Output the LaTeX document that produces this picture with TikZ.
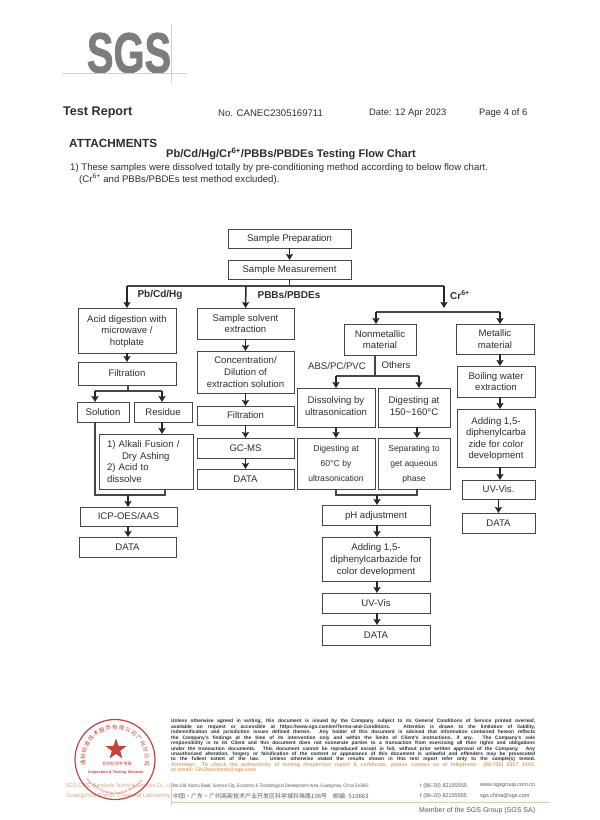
\documentclass[tikz,border=0pt]{standalone}
\usepackage{fontspec}
\setmainfont{Liberation Sans}
\newfontfamily\cjk{Noto Sans CJK SC}
\newfontfamily\logofont[BoldFeatures={FakeBold=1.5}]{Liberation Sans}
\usetikzlibrary{shapes.geometric, arrows.meta, decorations.text}
\definecolor{textdark}{RGB}{45, 45, 45}
\definecolor{linedark}{RGB}{70, 70, 70}
\definecolor{logogray}{RGB}{125, 125, 125}
\definecolor{logotan}{RGB}{232, 200, 170}
\definecolor{stampred}{RGB}{196, 66, 56}
\definecolor{noticeorange}{RGB}{226, 160, 100}
\newcommand{\fs}[2]{\fontsize{#1}{#2}\selectfont}

\begin{document}
\begin{tikzpicture}[
    x=1pt, y=-1pt,
    box/.style={rectangle, draw=linedark, line width=0.9pt, outer sep=0pt, inner sep=0pt, align=center, text=textdark, text depth=0pt, font=\fs{9.6}{11.6}},
    head/.style={anchor=west, text=textdark, inner sep=0pt},
    tag/.style={text=textdark, inner sep=0pt, font=\fs{9.6}{11}},
    stem/.style={draw=linedark, line width=1.1pt},
    arrow/.style={-{Stealth[length=6pt, width=7pt, inset=1pt]}, line width=1.5pt, color=black!85},
    foot/.style={anchor=west, inner sep=0pt, text=textdark!80, font=\fs{5.5}{6}},
]
\useasboundingbox (0,0) rectangle (600,820);

% Logo
\node[font=\logofont\bfseries\fs{57}{57}, text=logogray, xscale=0.7, inner sep=0pt] (logo) at (129,53) {SGS};
\draw[logotan, line width=0.6pt] (62,73.5) -- (187,73.5);
\draw[logotan, line width=0.6pt] (171,24) -- (171,83);

% Header
\node[head, font=\bfseries\fs{12.6}{13}] (report) at (63,112) {Test Report};
\node[head, font=\fs{9.6}{10}] (number) at (218,113) {No. CANEC2305169711};
\node[head, font=\fs{9.4}{10}] (date) at (369,113) {Date: 12 Apr 2023};
\node[head, font=\fs{9.4}{10}] (page) at (479,113) {Page 4 of 6};
\node[head, font=\bfseries\fs{11.8}{12}] (attach) at (69,143) {ATTACHMENTS};
\node[head, font=\bfseries\fs{11.1}{12}] (title) at (166,154) {Pb/Cd/Hg/Cr\textsuperscript{6+}/PBBs/PBDEs Testing Flow Chart};
\node[head, font=\fs{9.6}{10}] (note1) at (70,168) {1) These samples were dissolved totally by pre-conditioning method according to below flow chart.};
\node[head, font=\fs{9.6}{10}] (note2) at (79,179) {(Cr\textsuperscript{6+} and PBBs/PBDEs test method excluded).};

% Common steps
\node[box, minimum width=123pt, minimum height=19pt] (prep) at (289.5,238.5) {Sample Preparation};
\node[box, minimum width=123pt, minimum height=19pt] (meas) at (289.5,269.5) {Sample Measurement};

% Pb/Cd/Hg column
\node[box, minimum width=98pt, minimum height=45pt] (acid) at (127,330.5) {Acid digestion with\\microwave /\\hotplate};
\node[box, minimum width=98pt, minimum height=23pt] (filtA) at (127,373.5) {Filtration};
\node[box, minimum width=52pt, minimum height=20pt] (solution) at (103,412) {Solution};
\node[box, minimum width=58pt, minimum height=20pt] (residue) at (163,412) {Residue};
\node[box, minimum width=94pt, minimum height=55pt, text width=78pt, text depth={}, align=left] (alkali) at (146,461.5) {1) Alkali Fusion /\\\hspace*{15pt}Dry Ashing\\2) Acid to\\dissolve};
\node[box, minimum width=97pt, minimum height=19pt] (icp) at (128.5,516.5) {ICP-OES/AAS};
\node[box, minimum width=97pt, minimum height=20pt] (dataA) at (127.5,547) {DATA};

% PBBs/PBDEs column
\node[box, minimum width=97pt, minimum height=31pt] (solvent) at (245.5,323.5) {Sample solvent\\extraction};
\node[box, minimum width=97pt, minimum height=42pt] (conc) at (245.5,372) {Concentration/\\Dilution of\\extraction solution};
\node[box, minimum width=97pt, minimum height=19pt] (filtB) at (245.5,415.5) {Filtration};
\node[box, minimum width=97pt, minimum height=20pt] (gcms) at (245.5,448) {GC-MS};
\node[box, minimum width=97pt, minimum height=20pt] (dataB) at (245.5,479) {DATA};

% Cr6+ nonmetallic column
\node[box, minimum width=72pt, minimum height=31pt] (nonmet) at (380,339.5) {Nonmetallic\\material};
\node[box, minimum width=78pt, minimum height=39pt, text depth=3.5pt] (dissolve) at (336,407.5) {Dissolving by\\ultrasonication};
\node[box, minimum width=72pt, minimum height=39pt, text depth=3.5pt] (digestA) at (414,407.5) {Digesting at\\150\textasciitilde160\textdegree C};
\node[box, minimum width=78pt, minimum height=51pt, font=\fs{8.6}{15}] (digestB) at (336,463.5) {Digesting at\\60\textdegree C by\\ultrasonication};
\node[box, minimum width=72pt, minimum height=51pt, font=\fs{8.6}{15}] (separate) at (414,463.5) {Separating to\\get aqueous\\phase};
\node[box, minimum width=108pt, minimum height=20pt] (ph) at (376,515) {pH adjustment};
\node[box, minimum width=108pt, minimum height=44pt] (addA) at (376,559) {Adding 1,5-\\diphenylcarbazide for\\color development};
\node[box, minimum width=108pt, minimum height=20pt] (uvA) at (376,603) {UV-Vis};
\node[box, minimum width=108pt, minimum height=20pt] (dataC) at (376,635) {DATA};

% Cr6+ metallic column
\node[box, minimum width=78pt, minimum height=30pt] (metal) at (495,339) {Metallic\\material};
\node[box, minimum width=78pt, minimum height=31pt] (boil) at (496,381.5) {Boiling water\\extraction};
\node[box, minimum width=78pt, minimum height=58pt] (addB) at (496,438) {Adding 1,5-\\diphenylcarba\\zide for color\\development};
\node[box, minimum width=73pt, minimum height=19pt] (uvB) at (498.5,489.5) {UV-Vis.};
\node[box, minimum width=73pt, minimum height=20pt] (dataD) at (498.5,523) {DATA};

% Branch labels
\node[tag, font=\bfseries\fs{10}{11}] (lblPb) at (160,295) {Pb/Cd/Hg};
\node[tag, font=\bfseries\fs{10}{11}] (lblPBB) at (289,295) {PBBs/PBDEs};
\node[tag, font=\bfseries\fs{10}{11}] (lblCr) at (460,295) {Cr\textsuperscript{6+}};
\node[tag] (lblABS) at (337,366) {ABS/PC/PVC};
\node[tag] (lblOth) at (396,365) {Others};

% Junctions
\coordinate (jmain) at (289.5,286);
\coordinate (jleft) at (127,286);
\coordinate (jmid) at (246,286);
\coordinate (jright) at (444,286);
\coordinate (jcr) at (444,308);
\coordinate (jcrL) at (376,312);
\coordinate (jcrR) at (500,312);
\coordinate (jfilt) at (128,391);
\coordinate (jsol) at (95,391);
\coordinate (jres) at (162,391);
\coordinate (jabs) at (336,376);
\coordinate (joth) at (419,376);
\coordinate (jnon) at (375,376);
\coordinate (jsolend) at (95,495);
\coordinate (jalk) at (165,495);
\coordinate (jicp) at (128,495);
\coordinate (jdigA) at (336,495);
\coordinate (jsepA) at (417,495);
\coordinate (jph) at (377,495);

% Connectors
\draw[arrow] (prep) -- (meas);
\draw[stem] (meas.south) -- (jmain);
\draw[stem] (jleft) -- (jright);
\draw[arrow] (jleft) -- (acid.north);
\draw[arrow] (jmid) -- (solvent.north);
\draw[arrow] (jright) -- (jcr);
\draw[stem] (jcrL) -- (jcrR);
\draw[arrow] (jcrL) -- (jcrL |- nonmet.north);
\draw[arrow] (jcrR) -- (jcrR |- metal.north);

\draw[arrow] (acid) -- (filtA);
\draw[stem] (jfilt |- filtA.south) -- (jfilt);
\draw[stem] (jsol) -- (jres);
\draw[arrow] (jsol) -- (jsol |- solution.north);
\draw[arrow] (jres) -- (jres |- residue.north);
\draw[arrow] (jres |- residue.south) -- (jres |- alkali.north);
\draw[stem] (jsol |- solution.south) -- (jsolend) -- (jalk) -- (jalk |- alkali.south);
\draw[arrow] (jicp) -- (jicp |- icp.north);
\draw[arrow] (jicp |- icp.south) -- (jicp |- dataA.north);

\draw[arrow] (solvent) -- (conc);
\draw[arrow] (conc) -- (filtB);
\draw[arrow] (filtB) -- (gcms);
\draw[arrow] (gcms) -- (dataB);

\draw[stem] (jnon |- nonmet.south) -- (jnon);
\draw[stem] (jabs) -- (joth);
\draw[arrow] (jabs) -- (jabs |- dissolve.north);
\draw[arrow] (joth) -- (joth |- digestA.north);
\draw[arrow] (jabs |- dissolve.south) -- (jabs |- digestB.north);
\draw[arrow] (jsepA |- digestA.south) -- (jsepA |- separate.north);
\draw[stem] (jabs |- digestB.south) -- (jdigA) -- (jsepA) -- (jsepA |- separate.south);
\draw[arrow] (jph) -- (jph |- ph.north);
\draw[arrow] (jph |- ph.south) -- (jph |- addA.north);
\draw[arrow] (jph |- addA.south) -- (jph |- uvA.north);
\draw[arrow] (jph |- uvA.south) -- (jph |- dataC.north);

\draw[arrow] (jcrR |- metal.south) -- (jcrR |- boil.north);
\draw[arrow] (jcrR |- boil.south) -- (jcrR |- addB.north);
\draw[arrow] (jcrR |- addB.south) -- (jcrR |- uvB.north);
\draw[arrow] (uvB) -- (dataD);

% Laboratory name under the stamp
\node[foot, font=\fs{6}{7}, text=logotan!85!black, xscale=0.8] (labA) at (66,786) {SGS-CSTC Standards Technical Services Co., Ltd.};
\node[foot, font=\fs{6}{7}, text=logotan!85!black, xscale=0.96] (labB) at (66,796) {Guangzhou Branch Chemical Laboratory};

% Stamp
\begin{scope}[shift={(115,759.5)}, y=1pt]
\draw[stampred, line width=1.2pt] (0,0) circle[radius=40];
\path[decorate, decoration={text along path, text align=fit to path, text color=stampred, text={|\cjk\fs{5.6}{6}|通标标准技术服务有限公司广州分公司}}]
    (192:30) arc[start angle=192, end angle=-12, radius=30];
\path[decorate, decoration={text along path, text align=fit to path, text color=stampred, text={|\fs{3.2}{4}|SGS-CSTC Standards Technical Services Co., Ltd.}}]
    (215:35) arc[start angle=215, end angle=325, radius=35];
\node[star, star points=5, star point ratio=2.5, fill=stampred, inner sep=0pt, minimum size=22pt] (stampstar) at (1,10) {};
\node[text=stampred, inner sep=0pt, font=\cjk\fs{4.2}{5}] (stampcn) at (2,-4) {检验检测专用章};
\node[text=stampred, inner sep=0pt, font=\bfseries\fs{3.9}{5}] (stampen) at (1,-12.5) {Inspection \& Testing Services};
\end{scope}

% Legal notice
\node[anchor=north west, inner sep=0pt, text width=364pt, align=justify, text=textdark, font=\bfseries\fs{4.9}{5.45}] (legal) at (171,719) {Unless otherwise agreed in writing, this document is issued by the Company subject to its General Conditions of Service printed overleaf,\linebreak
available on request or accessible at https://www.sgs.com/en/Terms-and-Conditions. Attention is drawn to the limitation of liability,\linebreak
indemnification and jurisdiction issues defined therein. Any holder of this document is advised that information contained hereon reflects\linebreak
the Company's findings at the time of its intervention only and within the limits of Client's instructions, if any. The Company's sole\linebreak
responsibility is to its Client and this document does not exonerate parties to a transaction from exercising all their rights and obligations\linebreak
under the transaction documents. This document cannot be reproduced except in full, without prior written approval of the Company. Any\linebreak
unauthorized alteration, forgery or falsification of the content or appearance of this document is unlawful and offenders may be prosecuted\linebreak
to the fullest extent of the law. Unless otherwise stated the results shown in this test report refer only to the sample(s) tested.\linebreak
\textcolor{noticeorange}{\fs{5.3}{5.45}Attention: To check the authenticity of testing /inspection report \& certificate, please contact us at telephone: (86-755) 8307 1443,\linebreak
or email: CN.Doccheck@sgs.com}};

% Footer
\draw[logotan, line width=0.6pt] (171,783) -- (171,806);
\draw[logotan, line width=0.6pt] (171,802) -- (550,802);
\node[foot, font=\fs{4.9}{6}, xscale=0.82] (addrEn) at (173,786) {No.198, Kezhu Road, Science City, Economic \& Technological Development Area, Guangzhou, China 510663};
\node[foot, font=\cjk\fs{6}{6}] (addrCn) at (173,796) {中国・广东・广州高新技术产业开发区科学城科珠路198号\quad 邮编: 510663};
\node[foot] (tel) at (420,786) {t (86-20) 82155555};
\node[foot] (fax) at (420,796) {f (86-20) 82155555};
\node[foot] (web) at (480,786) {www.sgsgroup.com.cn};
\node[foot] (mail) at (480,796) {sgs.china@sgs.com};
\node[foot, font=\fs{7}{7}] (member) at (419,811) {Member of the SGS Group (SGS SA)};

\end{tikzpicture}
\end{document}
